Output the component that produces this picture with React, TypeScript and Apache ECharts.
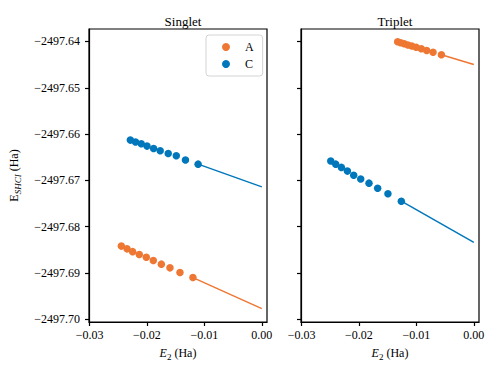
import React, { useEffect, useRef } from "react";
import * as echarts from "echarts";

// Singlet panel data
const singletA_E2 = [-0.02447, -0.02348, -0.0225, -0.02134, -0.02012, -0.0189, -0.0175, -0.016, -0.01426, -0.012];
const singletA_E = [-2497.6842, -2497.6848, -2497.6854, -2497.686, -2497.6866, -2497.6873, -2497.6881, -2497.6889, -2497.6899, -2497.691];
const singletC_E2 = [-0.0229, -0.022, -0.021, -0.02, -0.01885, -0.0177, -0.0163, -0.0149, -0.0133, -0.0111];
const singletC_E = [-2497.6613, -2497.6617, -2497.6621, -2497.6626, -2497.6631, -2497.6636, -2497.6642, -2497.6647, -2497.6656, -2497.6665];
// Triplet panel data
const tripletA_E2 = [-0.01327, -0.01273, -0.01212, -0.01148, -0.0108, -0.01005, -0.00915, -0.00821, -0.0071, -0.00565];
const tripletA_E = [-2497.64006, -2497.64026, -2497.6405, -2497.64074, -2497.64097, -2497.64126, -2497.64158, -2497.64193, -2497.64234, -2497.64288];
const tripletC_E2 = [-0.02492, -0.02405, -0.02306, -0.02202, -0.02092, -0.0197, -0.01826, -0.01675, -0.01496, -0.01263];
const tripletC_E = [-2497.6658, -2497.6665, -2497.6672, -2497.668, -2497.6689, -2497.6697, -2497.6706, -2497.6717, -2497.6729, -2497.6745];
// Linear extrapolation endpoints at E2 = 0
const singletA_E0 = -2497.6977;
const singletC_E0 = -2497.6714;
const tripletA_E0 = -2497.64498;
const tripletC_E0 = -2497.6834;

const panelTitles = ["Singlet", "Triplet"];
const seriesNames = ["A", "C"];
const xTicks = [-0.03, -0.02, -0.01, 0.0];
const yTicks = [-2497.7, -2497.69, -2497.68, -2497.67, -2497.66, -2497.65, -2497.64];

const ORANGE = "#EE7733";
const BLUE = "#0077BB";
const FONT = "Liberation Serif";

const zip = (xs: number[], ys: number[]) => xs.map((x, i) => [x, ys[i]]);
const fitLine = (xs: number[], ys: number[], e0: number) => [[xs[xs.length - 1], ys[ys.length - 1]], [0, e0]];
const fmt = (v: number, d: number) => v.toFixed(d).replace("-", "\u2212");

export default function App() {
  const ref = useRef<HTMLDivElement>(null);
  useEffect(() => {
    if (!ref.current) return;
    const chart = echarts.init(ref.current, null, { renderer: "svg" });
    const grids = [
      { left: 89, top: 29, width: 178, height: 293 },
      { left: 301, top: 29, width: 178, height: 293 },
    ].map((g) => ({ ...g, show: true, borderColor: "#000", borderWidth: 1.2, backgroundColor: "transparent" }));

    const mkX = (i: number) => ({
      type: "value",
      gridIndex: i,
      min: -0.0301,
      max: 0.0009,
      name: "{i|E}{s|2} {n|(Ha)}",
      nameLocation: "middle",
      nameGap: 23,
      nameTextStyle: {
        fontFamily: FONT,
        color: "#000",
        rich: {
          i: { fontFamily: FONT, fontSize: 12, fontStyle: "italic", lineHeight: 16, color: "#000" },
          s: { fontFamily: FONT, fontSize: 9, lineHeight: 9, verticalAlign: "bottom", color: "#000" },
          n: { fontFamily: FONT, fontSize: 12, lineHeight: 16, color: "#000" },
        },
      },
      axisLine: { show: true, onZero: false, lineStyle: { color: "#000", width: 1.2 } },
      axisTick: { show: true, length: 4, customValues: xTicks, lineStyle: { color: "#000", width: 1.2 } },
      axisLabel: {
        customValues: xTicks,
        formatter: (v: number) => fmt(v, 2),
        fontFamily: FONT,
        fontSize: 12,
        color: "#000",
        margin: 7,
      },
      splitLine: { show: false },
    });

    const mkY = (i: number) => ({
      type: "value",
      gridIndex: i,
      min: -2497.7006,
      max: -2497.6373,
      name: i === 0 ? "{e|E}{s|SHCI} {n|(Ha)}" : "",
      nameLocation: "middle",
      nameGap: 67,
      nameTextStyle: {
        fontFamily: FONT,
        color: "#000",
        rich: {
          e: { fontFamily: FONT, fontSize: 12, lineHeight: 16, color: "#000" },
          s: { fontFamily: FONT, fontSize: 9, fontStyle: "italic", lineHeight: 9, verticalAlign: "bottom", color: "#000" },
          n: { fontFamily: FONT, fontSize: 12, lineHeight: 16, color: "#000" },
        },
      },
      axisLine: { show: true, onZero: false, lineStyle: { color: "#000", width: 1.2 } },
      axisTick: { show: true, length: 4, customValues: yTicks, lineStyle: { color: "#000", width: 1.2 } },
      axisLabel: {
        show: i === 0,
        customValues: yTicks,
        formatter: (v: number) => fmt(v, 2),
        fontFamily: FONT,
        fontSize: 12,
        color: "#000",
        margin: 9,
      },
      splitLine: { show: false },
    });

    const scatter = (name: string, color: string, i: number, xs: number[], ys: number[]) => ({
      name,
      type: "scatter",
      xAxisIndex: i,
      yAxisIndex: i,
      symbol: "circle",
      symbolSize: 7.5,
      itemStyle: { color, opacity: 1 },
      data: zip(xs, ys),
      z: 3,
    });
    const line = (name: string, color: string, i: number, pts: number[][]) => ({
      name: name + "_fit",
      type: "line",
      xAxisIndex: i,
      yAxisIndex: i,
      symbol: "none",
      lineStyle: { color, width: 1.5 },
      data: pts,
      z: 2,
    });

    chart.setOption({
      animation: false,
      backgroundColor: "#fff",
      textStyle: { fontFamily: FONT },
      title: [
        { text: panelTitles[0], left: 178, top: 10, textAlign: "center", textStyle: { fontFamily: FONT, fontSize: 13, fontWeight: "normal", color: "#000" } },
        { text: panelTitles[1], left: 390, top: 10, textAlign: "center", textStyle: { fontFamily: FONT, fontSize: 13, fontWeight: "normal", color: "#000" } },
      ],
      legend: {
        data: seriesNames.map((n, k) => ({ name: n, itemStyle: { color: k === 0 ? ORANGE : BLUE } })),
        orient: "vertical",
        left: 206,
        top: 35,
        icon: "circle",
        itemWidth: 8,
        itemHeight: 8,
        itemGap: 5,
        padding: [6, 9, 6, 16],
        borderColor: "#d4d4d4",
        borderWidth: 1,
        borderRadius: 3,
        backgroundColor: "#fff",
        textStyle: { fontFamily: FONT, fontSize: 12, color: "#000", padding: [0, 0, 0, 10] },
      },
      grid: grids,
      xAxis: [mkX(0), mkX(1)],
      yAxis: [mkY(0), mkY(1)],
      series: [
        line("A", ORANGE, 0, fitLine(singletA_E2, singletA_E, singletA_E0)),
        line("C", BLUE, 0, fitLine(singletC_E2, singletC_E, singletC_E0)),
        line("A", ORANGE, 1, fitLine(tripletA_E2, tripletA_E, tripletA_E0)),
        line("C", BLUE, 1, fitLine(tripletC_E2, tripletC_E, tripletC_E0)),
        scatter(seriesNames[0], ORANGE, 0, singletA_E2, singletA_E),
        scatter(seriesNames[1], BLUE, 0, singletC_E2, singletC_E),
        scatter(seriesNames[0], ORANGE, 1, tripletA_E2, tripletA_E),
        scatter(seriesNames[1], BLUE, 1, tripletC_E2, tripletC_E),
      ],
    });
    return () => chart.dispose();
  }, []);
  return <div ref={ref} style={{ width: 498, height: 374, position: "absolute", left: 0, top: 0 }} />;
}
